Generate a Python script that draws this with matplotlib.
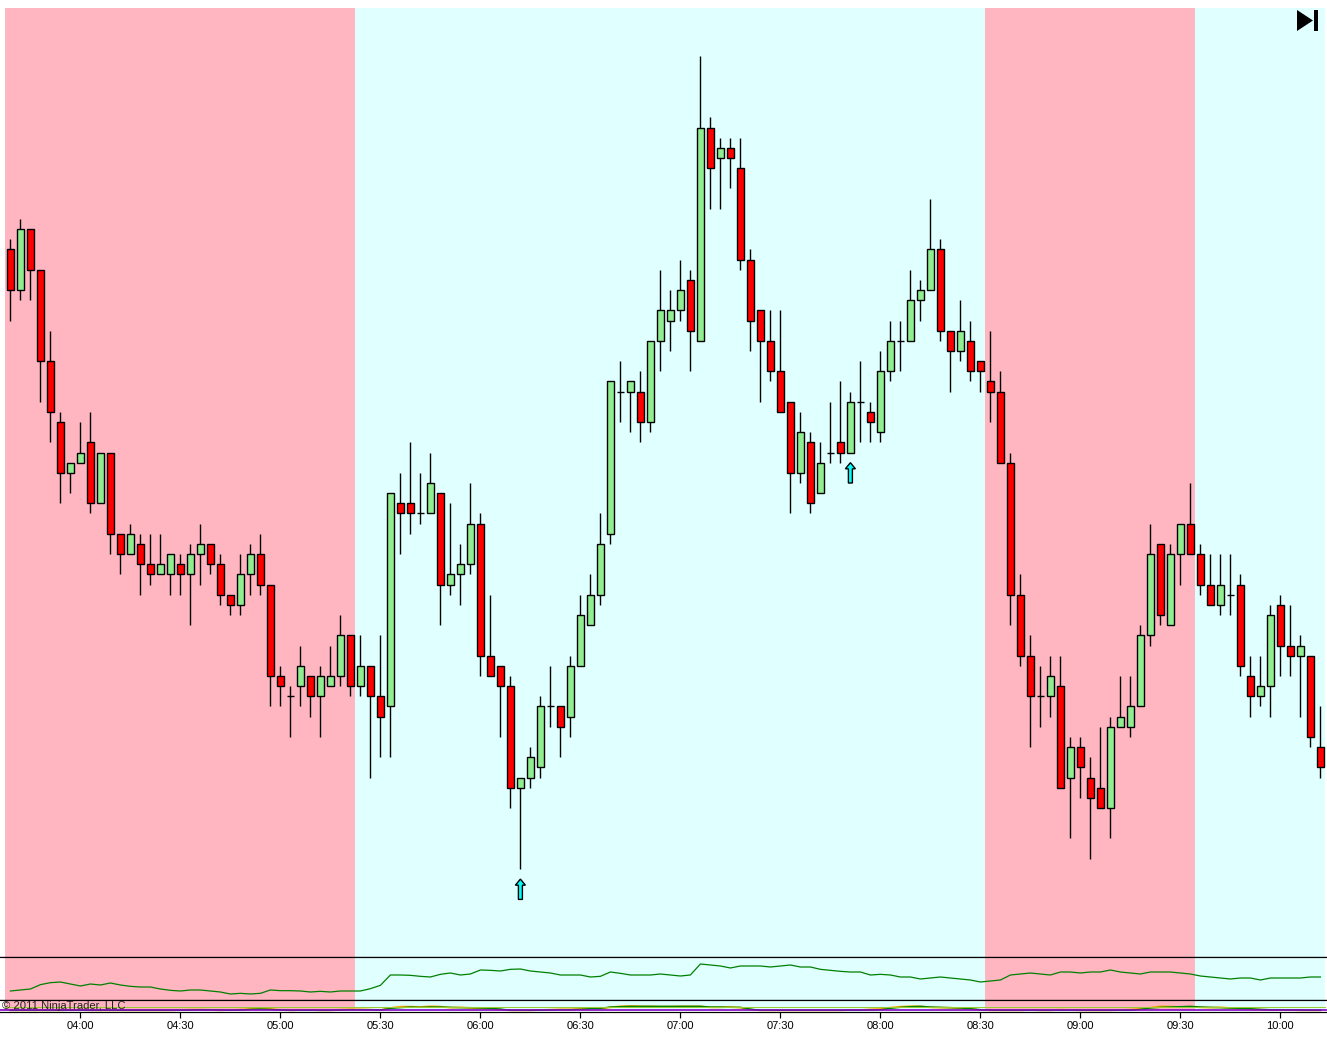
import numpy as np
import matplotlib
matplotlib.use("Agg")
import matplotlib.pyplot as plt
from matplotlib.patches import Polygon, Rectangle

plt.rcParams['font.family'] = ['Liberation Sans', 'DejaVu Sans']

W, H = 1327, 1039
PX = 0.72  # one pixel in points at dpi 100

# Candles: price in ticks below the chart's reference level (no price axis is shown)
high = [11,9,10,14,20,28,33,29,28,32,32,40,39,40,40,40,42,42,41,39,41,42,46,42,41,40,45,53,55,51,54,53,51,
        48,50,50,53,50,36,34,31,34,32,36,37,41,35,38,46,53,54,64,61,56,53,57,52,46,44,38,25,23,25,24,21,14,
        16,13,14,-7,-1,1,1,1,12,18,18,18,27,28,30,31,27,25,26,23,27,22,19,19,14,15,7,11,20,17,19,23,20,24,
        32,44,50,53,52,52,60,60,62,59,58,54,54,49,39,41,41,39,35,41,42,42,42,44,52,52,47,46,47,50,52,57]
low = [19,17,17,27,31,37,36,33,38,37,42,44,42,46,45,44,46,46,49,45,44,47,48,48,46,46,57,57,60,57,58,60,55,
       55,56,56,64,62,62,42,40,39,38,49,46,47,44,54,54,60,67,73,65,64,59,62,60,53,49,47,41,29,30,31,30,24,
       22,19,24,21,8,8,6,14,22,27,25,28,38,35,38,36,33,33,32,31,31,31,25,24,21,19,16,21,26,23,25,26,29,33,
       49,53,61,59,58,65,70,66,72,67,70,59,60,57,51,49,49,45,42,46,47,48,48,54,58,57,58,54,54,58,61,64]
body_top = [12,10,10,14,23,29,33,32,31,32,32,40,40,41,43,43,42,43,42,41,41,43,46,44,42,42,45,54,56,53,54,54,54,
            50,50,53,53,56,36,37,37,38,35,36,44,43,39,39,52,53,55,64,62,57,57,57,53,48,46,41,25,26,25,26,21,18,
            18,16,15,0,0,2,2,4,13,18,21,24,27,30,31,33,32,31,27,27,28,24,21,21,17,16,12,12,20,20,21,23,25,26,
            33,46,52,56,54,55,61,61,64,65,59,58,57,50,42,41,42,39,39,42,45,45,46,45,54,55,48,47,51,51,52,61]
body_bottom = [16,16,14,23,28,34,34,33,37,37,40,42,42,43,44,44,44,44,44,42,43,46,47,47,44,45,54,55,56,55,56,56,55,
               54,55,55,56,58,57,38,38,38,38,45,45,44,43,52,54,55,65,65,64,63,57,59,58,53,49,46,40,26,26,29,29,21,
               19,18,20,21,4,3,3,13,19,21,24,28,34,34,37,36,32,32,32,27,29,30,24,21,21,17,16,20,22,22,24,24,26,33,
               46,52,56,56,56,65,64,63,66,67,67,59,59,57,50,48,49,42,42,45,47,47,46,53,56,56,55,51,52,52,60,63]
# 'd' falling, 'u' rising, '-' unchanged
direction = list(
    "dudddd" "uu" "du" "dd" "u" "dd" "u" "u" "d" "u" "u" "d" "d" "d" "u" "u" "d"
    "dd" "-" "u" "d" "u" "u" "u" "d" "u" "d" "d" "u" "d" "d" "-" "u" "d" "u" "u" "u"
    "d" "d" "d" "d" "u" "u" "u" "-" "d" "u" "u" "u" "u" "u" "-" "u" "d" "u" "u" "u" "u"
    "d" "u" "d" "u" "d" "d" "d" "d" "d" "d" "d" "u" "d" "u" "-" "d" "u" "-" "d" "u" "u"
    "-" "u" "u" "u" "d" "d" "u" "d" "d" "d" "d" "d" "d" "d" "-" "u" "d" "u" "d" "d" "d"
    "u" "u" "u" "u" "u" "d" "u" "u" "d" "d" "d" "u" "-" "d" "d" "u" "u" "d" "d" "u" "d" "d")

# Signal arrows sit under these bars
arrow_bars = [51, 84]

# Sessions: (first bar, last bar, colour name)
sessions = [(0, 34, 'short'), (35, 97, 'long'), (98, 118, 'short'), (119, 131, 'long')]

# Middle indicator panel
indicator = [27,30,33,46,52,54,48,42,48,45,51,45,41,39,39,33,29,27,30,30,27,24,18,20,18,20,30,28,28,27,24,26,24,27,27,27,34,44,
             75,75,74,71,69,77,81,
             75,78,90,89,87,92,93,87,84,81,75,75,75,69,71,84,80,75,75,75,78,75,72,75,108,105,102,96,102,102,102,99,102,105,99,99,92,89,86,84,84,75,77,75,
             69,69,63,66,69,66,63,60,54,57,60,75,78,81,78,75,84,84,81,84,84,90,84,81,78,84,84,84,81,78,72,69,66,63,66,66,60,66,66,66,66,69,69]

# Bottom oscillator panel
osc_green = [0,0,0,0,0,0,0,0,0,0,
             0,0,0,0,0,0,0,0,1,2,
             2,1,0,1,3,4,3,1,0,0,
             0,0,0,1,2,2,2,1,6,8,
             10,9,10,10,9,8,8,7,6,4,
             0,0,0,0,1,2,2,3,5,6,
             10,11,12,12,12,12,12,12,12,12,
             10,10,9,9,4,0,0,0,0,0,
             0,0,0,0,0,0,1,2,6,9,
             11,12,10,9,8,7,5,2,1,0,
             0,0,0,0,0,0,0,0,0,0,
             0,0,0,3,7,9,10,11,12,10,
             9,8,7,6,5,3,2,2,1,1,
             0,0]
osc_orange = [0,0,0,0,0,0,1,1,0,0,
              0,0,0,0,0,0,0,1,2,2,
              1,0,1,2,4,5,4,1,0,1,
              1,0,0,2,3,3,2,1,7,11,
              11,10,12,11,8,9,7,6,5,2,
              0,0,0,1,2,3,3,4,7,5,
              9,12,13,12,12,11,11,12,12,12,
              9,9,10,8,2,0,0,0,0,0,
              0,0,0,0,1,1,3,4,8,11,
              12,12,9,8,8,6,4,1,0,0,
              0,0,1,0,0,2,1,0,0,0,
              0,1,2,5,8,12,11,10,11,9,
              8,9,7,5,3,2,1,1,1,0,
              0,0]
osc_level = 10
osc_base = 0

tick_bars = [7, 17, 27, 37, 47, 57, 67, 77, 87, 97, 107, 117, 127]
tick_labels = ['04:00', '04:30', '05:00', '05:30', '06:00', '06:30', '07:00',
               '07:30', '08:00', '08:30', '09:00', '09:30', '10:00']

COL = {'short': '#FFB6C1', 'long': '#E0FFFF'}
UP, DOWN = '#90EE90', '#FF0000'


def add_axes(top, bottom):
    return fig.add_axes([0, 1 - bottom / H, 1, (bottom - top) / H])


fig = plt.figure(figsize=(W / 100, H / 100), dpi=100, facecolor='white')
ax = add_axes(8, 957)
mid = add_axes(957, 1000)
bot = add_axes(1000, 1012)

LW = 1.0
for a in (ax, mid, bot):
    a.set_xlim(-1.04, 131.66)
    a.set_facecolor('white')
    a.tick_params(left=False, labelleft=False, bottom=False, labelbottom=False)
    for s in ('left', 'right'):
        a.spines[s].set_visible(False)
    for s in ('top', 'bottom'):
        a.spines[s].set_linewidth(PX * 1.2)
        a.spines[s].set_color('black')
    for first, last, name in sessions:
        ymin = 0.19 if a is bot else 0
        a.axvspan(first - 0.54, last + 0.46, ymin=ymin, color=COL[name], lw=0, zorder=0)
ax.spines['top'].set_visible(False)

# main candles
ax.set_ylim(81.67, -11.77)
x = np.arange(len(high))
high, low, body_top, body_bottom = map(np.array, (high, low, body_top, body_bottom))
ax.vlines(x, high, low, color='black', lw=LW, zorder=2)
for i, d in enumerate(direction):
    if d == '-':
        ax.hlines(body_top[i], i - 0.35, i + 0.35, color='black', lw=LW, zorder=3)
    else:
        ax.bar(i, body_bottom[i] - body_top[i], bottom=body_top[i], width=0.62,
               color=UP if d == 'u' else DOWN, edgecolor='black', linewidth=LW, zorder=3)

for b in arrow_bars:
    t = low[b] + 1.0
    shaft, head, neck, length = 0.2, 0.5, 0.6, 2.0
    pts = [(b, t), (b + head, t + neck), (b + shaft, t + neck), (b + shaft, t + length),
           (b - shaft, t + length), (b - shaft, t + neck), (b - head, t + neck)]
    ax.add_patch(Polygon(pts, closed=True, facecolor='#00FFFF', edgecolor='black', lw=LW, zorder=4))

# middle panel
mid.set_ylim(0, 129)
mid.plot(x, indicator, color='#008000', lw=0.9, zorder=3)

# bottom panel
bot.set_ylim(-5, 31)
bot.plot(x, osc_orange, color='#FFA500', lw=1.3, zorder=2)
bot.plot(x, osc_green, color='#008000', lw=1.0, zorder=3)
bot.axhline(osc_level, color='#9ACD32', lw=PX, zorder=4, xmin=5 / W, xmax=1325 / W)
bot.axhline(osc_base, color='#8000C8', lw=1.2, zorder=5)

bot.set_xticks(tick_bars)
bot.set_xticklabels(tick_labels, fontsize=8.0, color='black')
bot.tick_params(bottom=True, labelbottom=True, length=4.3, width=PX * 1.2, pad=2.2, color='black')

fig.text(2 / W, 1 - 1006 / H, '\u00a9 2011 NinjaTrader, LLC', fontsize=8.15,
         color='#222222', ha='left', va='center', zorder=6)

# skip-to-end glyph in the corner
def fp(px, py):
    return px / W, 1 - py / H


fig.add_artist(Polygon([fp(1297, 10), fp(1313, 20.5), fp(1297, 31)], closed=True,
                       facecolor='black', edgecolor='none', transform=fig.transFigure))
fig.add_artist(Rectangle(fp(1314, 31), 4 / W, 21 / H, facecolor='black', edgecolor='none',
                         transform=fig.transFigure))

assert len(direction) == len(high) == len(low) == len(body_top) == len(body_bottom) == len(indicator) == len(osc_green) == len(osc_orange)

fig.savefig('out.png', dpi=100)
